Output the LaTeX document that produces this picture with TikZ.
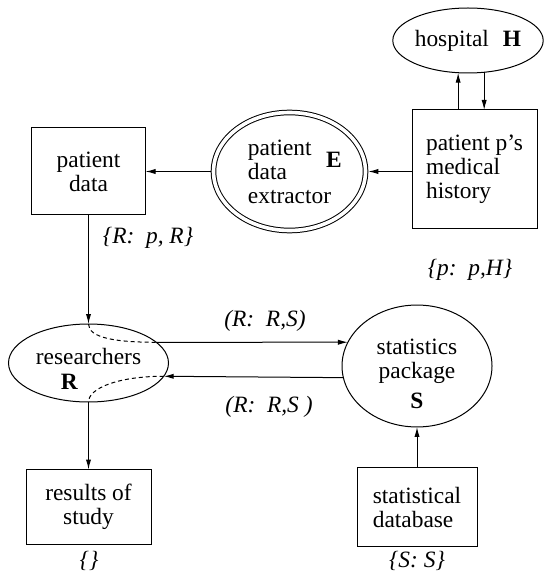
\documentclass[tikz,border=0pt]{standalone}
\usepackage{fontspec}
\setmainfont{Liberation Serif}
\usetikzlibrary{shapes.geometric,arrows.meta}

\begin{document}
\begin{tikzpicture}[x=0.5pt, y=-0.5pt, line width=0.5pt,
    font=\fontsize{11.7}{12}\selectfont,
    every node/.style={inner sep=0pt, outer sep=0pt},
    box/.style={draw, rectangle},
    oval/.style={draw, ellipse},
    tag/.style={font=\fontsize{11.7}{12}\selectfont\itshape},
    arr/.style={-{Latex[length=5pt,width=2.6pt]}},
    flow/.style={dash pattern=on 2pt off 1.5pt}]
  \useasboundingbox (0,0) rectangle (544,572);

  \node[oval, minimum width=75pt, minimum height=32.5pt] (hosp) at (468,40.5) {hospital\hspace{0.6em}\textbf{H}};
  \node[box, minimum width=62.5pt, minimum height=59pt, align=left] (hist) at (474.5,169) {patient p's\\medical\\history};
  \node[tag] (histTag) at (470,270) {\{p:~~p,H\}};

  \node[oval, double, double distance=1.8pt, outer sep=1.4pt, minimum width=76pt, minimum height=59pt, align=left] (extr) at (289.5,171.5) {patient\\data\\extractor};
  \node (extrE) at (334,160) {\textbf{E}};

  \node[box, minimum width=57pt, minimum height=43.5pt, align=center] (pdata) at (88.5,171.5) {patient\\data};
  \node[tag] (pdataTag) at (148,238) {\{R:~~p, R\}};

  \node[oval, minimum width=80pt, minimum height=39pt, align=center] (res) at (88.5,363) {\rule{0pt}{14pt}researchers\\[0.5pt]\textbf{R}\hspace*{19pt}\mbox{}};
  \node[oval, minimum width=75pt, minimum height=51pt, align=center] (stats) at (417,366) {\rule{0pt}{16pt}statistics\\package\\[3pt]\textbf{S}};
  \node[tag] (toStats) at (265,321) {(R:~~R,S)};
  \node[tag] (toRes) at (269,407) {(R:~~R,S~)};

  \node[box, minimum width=62.5pt, minimum height=37.5pt, align=center] (results) at (88.5,507) {results of\\study};
  \node[tag] (resultsTag) at (89,561) {\{\}};
  \node[box, minimum width=60pt, minimum height=39.5pt, align=left] (db) at (417,507) {statistical\\database};
  \node[tag] (dbTag) at (417,561) {\{S: S\}};

  \draw[arr] (hosp.-107 |- hist.north) -- (hosp.-107);
  \draw[arr] (hosp.-63) -- (hosp.-63 |- hist.north);
  \draw[arr] (hist.west |- extr.east) -- (extr.east);
  \draw[arr] (extr.west) -- (extr.west -| pdata.east);
  \draw[arr] (pdata.south) -- (res.north);
  \draw[flow] (res.north) .. controls +(0,14) and +(-40,0) .. (res.17);
  \draw[arr] (res.17) -- (stats.161);
  \draw[arr] (stats.-171) -- (res.-10);
  \draw[flow] (res.-10) .. controls +(-45,0) and +(0,-14) .. (res.south);
  \draw[arr] (res.south) -- (results.north);
  \draw[arr] (db.north) -- (stats.south);
\end{tikzpicture}
\end{document}
